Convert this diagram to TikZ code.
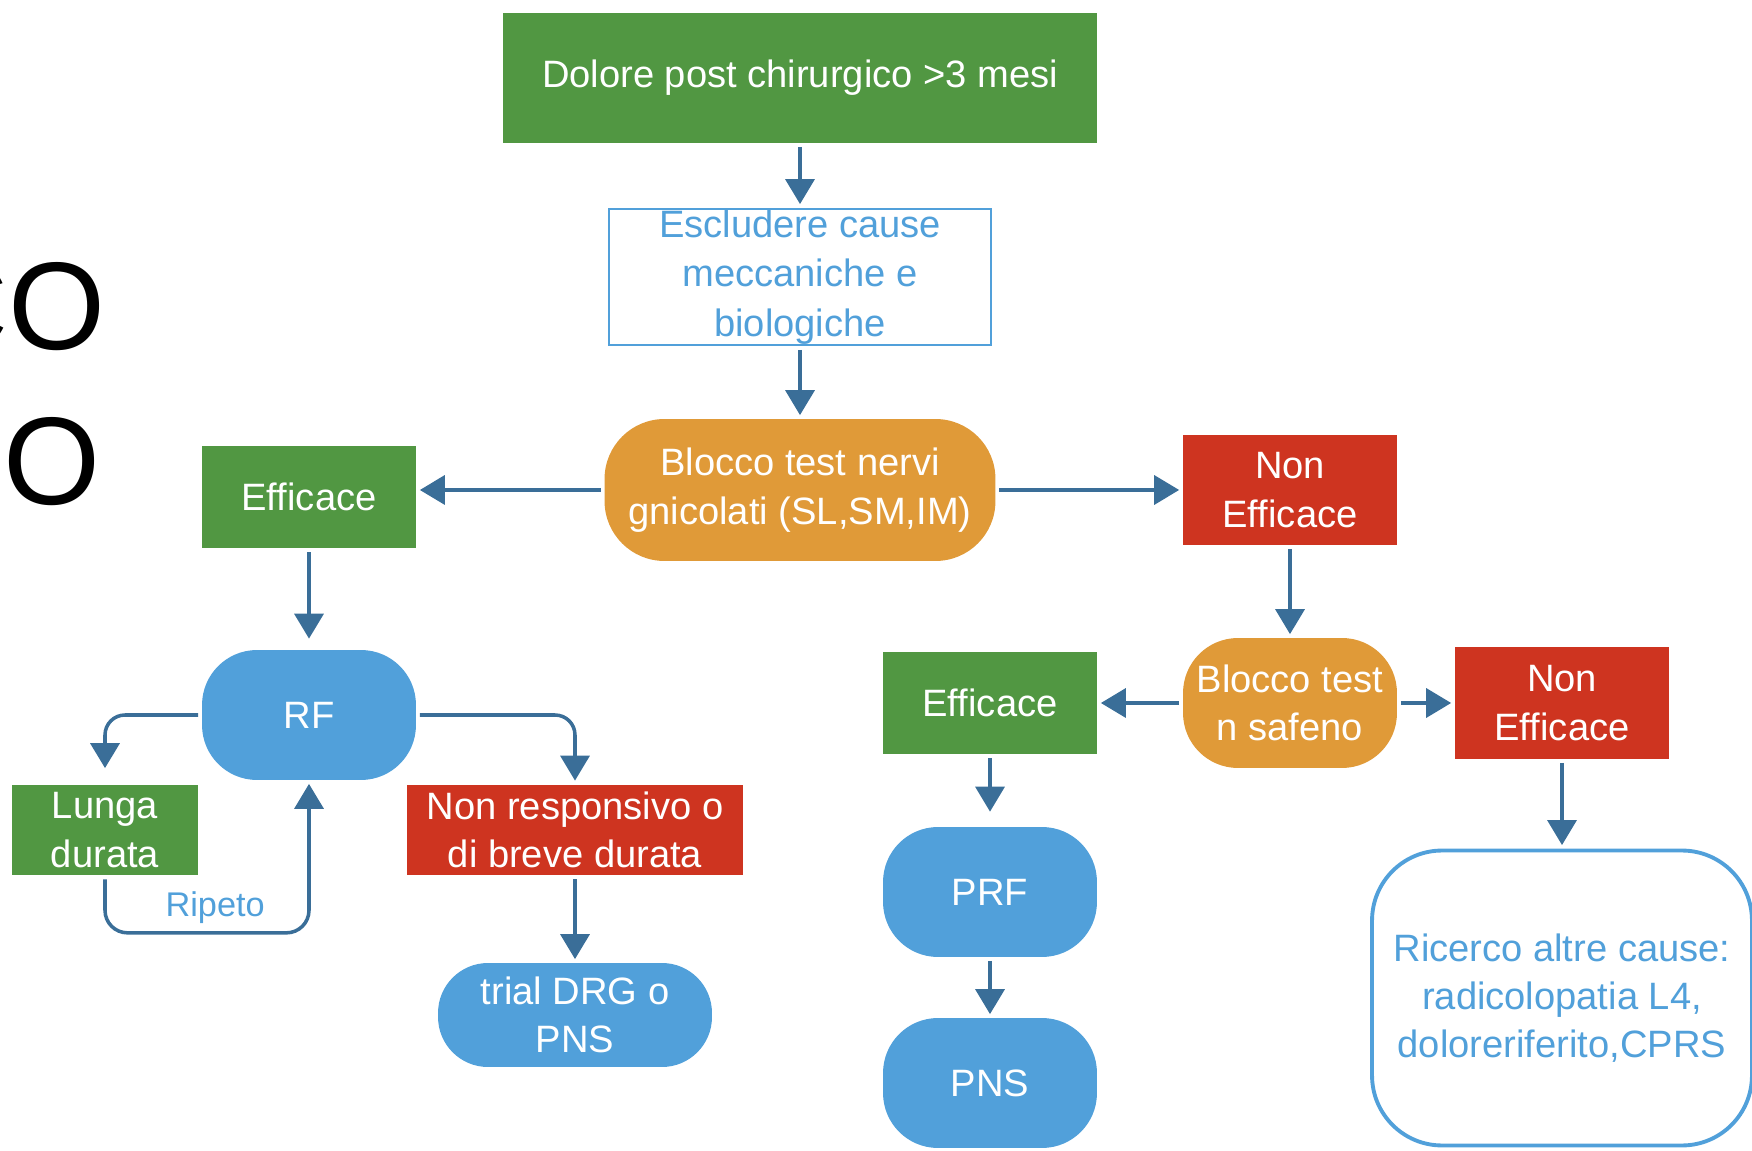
\documentclass[tikz,border=0pt]{standalone}
\usepackage{fontspec}
\setmainfont{Liberation Sans}
\usetikzlibrary{arrows.meta}
\definecolor{verde}{RGB}{81,151,66}
\definecolor{rosso}{RGB}{206,52,32}
\definecolor{arancio}{RGB}{224,154,56}
\definecolor{azzurro}{RGB}{81,160,218}
\definecolor{blufreccia}{RGB}{58,110,152}
\begin{document}
\begin{tikzpicture}[x=.02cm, y=-.02cm, >={Triangle[width=.58cm,length=.5cm]},
    box/.style={inner sep=0pt, align=center, text=white, font=\fontsize{21.7}{27.5}\selectfont},
    verdebox/.style={box, fill=verde, minimum width=4.28cm, minimum height=2.06cm},
    rossobox/.style={box, fill=rosso, minimum width=4.28cm, minimum height=2.2cm},
    tondo/.style={box, fill=azzurro, rounded corners=1.1cm, minimum width=4.28cm, minimum height=2.6cm},
    test/.style={box, fill=arancio, rounded corners=1.2cm},
    cornice/.style={box, draw=azzurro, text=azzurro, fill=white},
    linea/.style={->, draw=blufreccia, line width=2pt, shorten <=2pt, shorten >=2pt}]
    \useasboundingbox (0,0) rectangle (1752,1151);
    \clip (0,0) rectangle (1752,1151);
    % titolo tagliato a sinistra
    \node[anchor=base east, inner sep=0pt, font=\fontsize{71}{71}\selectfont] (titoloA) at (106,350) {CO};
    \node[anchor=base east, inner sep=0pt, font=\fontsize{71}{71}\selectfont] (titoloB) at (101,505) {O};
    % colonna centrale
    \node[verdebox, minimum width=11.88cm, minimum height=2.6cm] (dolore) at (800,78) {Dolore post chirurgico >3 mesi};
    \node[cornice, line width=1.6pt, minimum width=7.64cm, minimum height=2.72cm, font=\fontsize{21.7}{28}\selectfont] (escludere) at (800,277) {Escludere cause\\meccaniche e\\biologiche};
    \node[test, minimum width=7.82cm, minimum height=2.84cm] (blocco) at (800,490) {Blocco test nervi\\gnicolati (SL,SM,IM)};
    % ramo sinistro
    \node[verdebox] (effA) at (309,497) {Efficace};
    \node[tondo] (rf) at (309,715) {RF};
    \node[verdebox, minimum width=3.74cm, minimum height=1.82cm] (lunga) at (105,830) {Lunga\\durata};
    \node[rossobox, minimum width=6.72cm, minimum height=1.82cm] (nonresp) at (575,830) {Non responsivo o\\di breve durata};
    \node[tondo, minimum width=5.48cm, minimum height=2.08cm, rounded corners=1cm] (trial) at (575,1015) {trial DRG o\\PNS};
    % ramo destro
    \node[rossobox] (nonA) at (1290,490) {Non\\Efficace};
    \node[test, minimum width=4.28cm, minimum height=2.6cm, rounded corners=1.1cm] (safeno) at (1290,703) {Blocco test\\n safeno};
    \node[verdebox] (effB) at (990,703) {Efficace};
    \node[rossobox, minimum height=2.24cm] (nonB) at (1562,703) {Non\\Efficace};
    \node[tondo] (prf) at (990,892) {PRF};
    \node[tondo] (pns) at (990,1083) {PNS};
    \node[cornice, line width=2.2pt, rounded corners=1.4cm, minimum width=7.6cm, minimum height=5.9cm] (ricerco) at (1562,998) {Ricerco altre cause:\\radicolopatia L4,\\doloreriferito,CPRS};
    % frecce
    \draw[linea] (dolore.south) -- (escludere.north);
    \draw[linea] (escludere.south) -- (blocco.north);
    \draw[linea] (blocco.west) -- (blocco.west -| effA.east);
    \draw[linea] (blocco.east) -- (nonA.west);
    \draw[linea, shorten >=.22cm] (effA.south) -- (rf.north);
    \draw[linea, shorten >=.32cm] (rf.west) [rounded corners=.4cm] -| (lunga.north);
    \draw[linea] (rf.east) [rounded corners=.4cm] -| (nonresp.north);
    \draw[linea] (lunga.south) [rounded corners=.45cm] -- ++(0,57) -| node[pos=.27, above=1pt, text=azzurro, font=\fontsize{19.5}{22}\selectfont] {Ripeto} (rf.south);
    \draw[linea] (nonresp.south) -- (trial.north);
    \draw[linea] (nonA.south) -- (safeno.north);
    \draw[linea] (safeno.west) -- (effB.east);
    \draw[linea] (safeno.east) -- (nonB.west);
    \draw[linea, shorten >=.3cm] (effB.south) -- (prf.north);
    \draw[linea] (prf.south) -- (pns.north);
    \draw[linea] (nonB.south) -- (ricerco.north);
\end{tikzpicture}
\end{document}
